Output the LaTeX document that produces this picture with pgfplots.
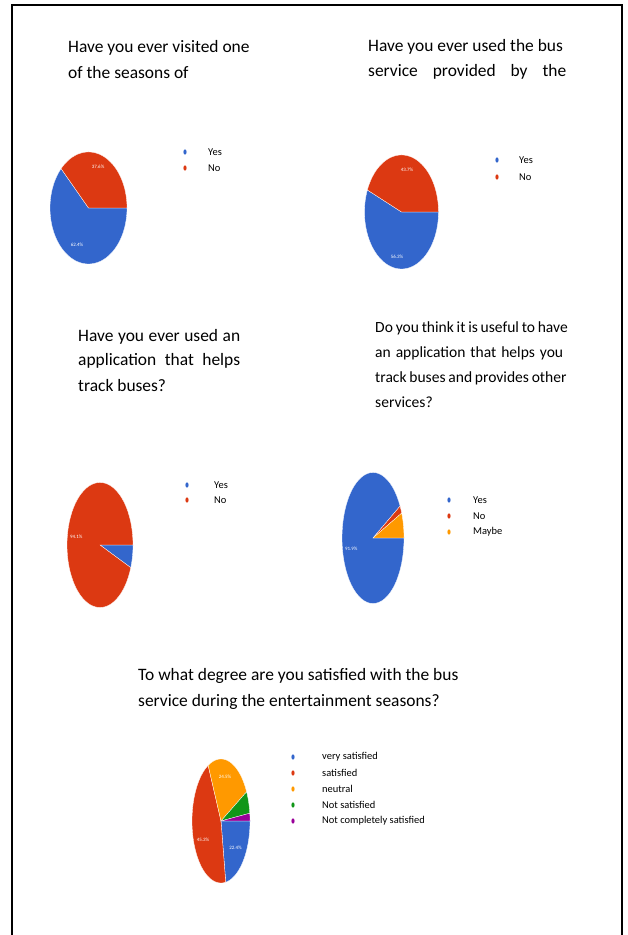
\documentclass[border=0pt]{standalone}
\usepackage{pgfplots}
\pgfplotsset{compat=1.18}
\usepackage{fontspec}
\setmainfont{Carlito}
\definecolor{gblue}{HTML}{3366CC}
\definecolor{gred}{HTML}{DC3912}
\definecolor{gorange}{HTML}{FF9900}
\definecolor{ggreen}{HTML}{109618}
\definecolor{gpurple}{HTML}{990099}
\pgfplotsset{pie/.style={hide axis, scale only axis, xmin=-1, xmax=1, ymin=-1, ymax=1, clip=false, anchor=center}}
% slice: colour, cumulative start %, cumulative end % (clockwise from 3 o'clock)
\newcommand\slice[3]{\addplot[fill=#1, draw=white, line width=0.3bp, domain={-3.6*(#3)}:{-3.6*(#2)}, samples=72, variable=\t] ({cos(\t)},{sin(\t)}) -- (0,0) -- cycle;}
\newcommand\jw{\hskip 0.22em plus 1fil minus 0.04em\relax}
\tikzset{lab/.style={text=white, font=\fontsize{5}{6}\selectfont, inner sep=0pt},
  ttl/.style={anchor=west, inner sep=0pt, font=\fontsize{17.5}{21}\selectfont},
  ttlb/.style={anchor=west, inner sep=0pt, font=\fontsize{15.6}{19}\selectfont},
  leg/.style={anchor=west, inner sep=0pt, font=\fontsize{10.5}{12}\selectfont}}
\begin{document}
\begin{tikzpicture}[x=1bp,y=1bp]
\path[use as bounding box] (0,0) rectangle (628,935);
\draw[line width=1.2bp] (12,-2) -- (12,930) -- (622,930) -- (622,-2);

% ---------- Chart 1 ----------
\node[ttl] at (68,887) {Have you ever visited one};
\node[ttl] at (68,862) {of the seasons of};
\begin{axis}[pie, at={(88.5bp,727bp)}, width=77bp, height=112bp]
\slice{gblue}{0}{62.4}
\slice{gred}{62.4}{100}
\node[lab] at (0.25,0.73) {37.6\%};
\node[lab] at (-0.3,-0.66) {62.4\%};
\end{axis}
\fill[gblue] (185,783) ellipse (1.6 and 2.6);
\fill[gred] (185,767) ellipse (1.6 and 2.6);
\node[leg] at (208,783) {Yes};
\node[leg] at (208,767) {No};

% ---------- Chart 2 ----------
\node[ttl] at (368,888) {Have you ever used the bus};
\node[ttl] at (368,863) {\hbox to 198bp{service\jw provided\jw by\jw the}};
\begin{axis}[pie, at={(401.5bp,723bp)}, width=74bp, height=114bp]
\slice{gblue}{0}{56.3}
\slice{gred}{56.3}{100}
\node[lab] at (0.15,0.74) {43.7\%};
\node[lab] at (-0.12,-0.79) {56.3\%};
\end{axis}
\fill[gblue] (497,775) ellipse (1.6 and 2.6);
\fill[gred] (497,758) ellipse (1.6 and 2.6);
\node[leg] at (519,775) {Yes};
\node[leg] at (519,758) {No};

% ---------- Chart 3 ----------
\node[ttl] at (78,598) {\hbox to 162bp{Have\jw you\jw ever\jw used\jw an}};
\node[ttl] at (78,574) {\hbox to 162bp{application\jw that\jw helps}};
\node[ttl] at (78,549) {track buses?};
\begin{axis}[pie, at={(100bp,390bp)}, width=66bp, height=125bp]
\slice{gblue}{0}{5.9}
\slice{gred}{5.9}{100}
\node[lab] at (-0.72,0.13) {94.1\%};
\end{axis}
\fill[gblue] (187,450) ellipse (1.6 and 2.6);
\fill[gred] (187,435) ellipse (1.6 and 2.6);
\node[leg] at (214,450) {Yes};
\node[leg] at (214,435) {No};

% ---------- Chart 4 ----------
\node[ttlb] at (375,607) {\hbox to 188bp{Do\jw you\jw think\jw it\jw is\jw useful\jw to\jw have}};
\node[ttlb] at (375,582) {\hbox to 188bp{an\jw application\jw that\jw helps\jw you}};
\node[ttlb] at (375,557) {\hbox to 188bp{track\jw buses\jw and\jw provides\jw other}};
\node[ttlb] at (375,533) {services?};
\begin{axis}[pie, at={(373bp,397bp)}, width=62bp, height=131bp]
\slice{gblue}{0}{91.9}
\slice{gred}{91.9}{93.8}
\slice{gorange}{93.8}{100}
\node[lab] at (-0.7,-0.17) {91.9\%};
\end{axis}
\fill[gblue] (449,435) ellipse (1.6 and 2.6);
\fill[gred] (449,419) ellipse (1.6 and 2.6);
\fill[gorange] (449,403) ellipse (1.6 and 2.6);
\node[leg] at (473,435) {Yes};
\node[leg] at (473,419) {No};
\node[leg] at (473,403) {Maybe};

% ---------- Chart 5 ----------
\node[ttl] at (138,259) {To what degree are you satisfied with the bus};
\node[ttl] at (138,233) {service during the entertainment seasons?};
\begin{axis}[pie, at={(221bp,114bp)}, width=58bp, height=124bp]
\slice{gblue}{0}{22.4}
\slice{gred}{22.4}{67.7}
\slice{gorange}{67.7}{92.2}
\slice{ggreen}{92.2}{98.0}
\slice{gpurple}{98.0}{100}
\node[lab] at (0.14,0.71) {24.5\%};
\node[lab] at (-0.62,-0.31) {45.3\%};
\node[lab] at (0.5,-0.44) {22.4\%};
\end{axis}
\fill[gblue] (293,178) ellipse (1.6 and 2.6);
\fill[gred] (293,162) ellipse (1.6 and 2.6);
\fill[gorange] (293,146) ellipse (1.6 and 2.6);
\fill[ggreen] (293,130) ellipse (1.6 and 2.6);
\fill[gpurple] (293,114) ellipse (1.6 and 2.6);
\node[leg] at (322,178) {very satisfied};
\node[leg] at (322,162) {satisfied};
\node[leg] at (322,146) {neutral};
\node[leg] at (322,130) {Not satisfied};
\node[leg] at (322,114) {Not completely satisfied};
\end{tikzpicture}
\end{document}
